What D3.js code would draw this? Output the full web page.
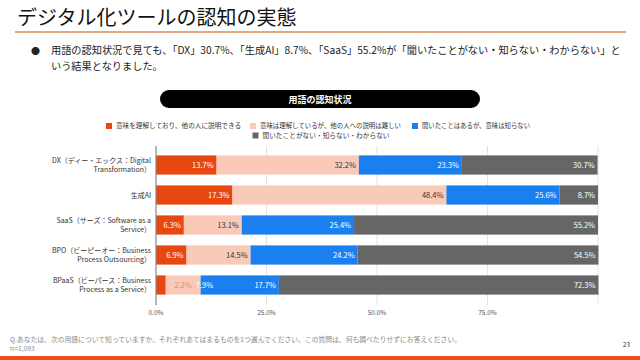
<!DOCTYPE html>
<html><head><meta charset="utf-8">
<script src="https://cdn.jsdelivr.net/npm/d3@7"></script>
<style>
html,body{margin:0;padding:0;background:#fff;}
svg{display:block;font-family:"Noto Sans CJK JP","Noto Sans",sans-serif;}
</style></head>
<body>
<svg id="c" width="640" height="360"></svg>
<script>
const categories = [
  ["DX（ディー・エックス：Digital","Transformation）"],
  ["生成AI"],
  ["SaaS（サーズ：Software as a","Service）"],
  ["BPO（ビーピーオー：Business","Process Outsourcing）"],
  ["BPaaS（ビーパース：Business","Process as a Service）"]
];
const seriesNames = [
  "意味を理解しており、他の人に説明できる",
  "意味は理解しているが、他の人への説明は難しい",
  "聞いたことはあるが、意味は知らない",
  "聞いたことがない・知らない・わからない"
];
const understandExplain = [13.7, 17.3, 6.3, 6.9, 2.2];
const understandHard    = [32.2, 48.4, 13.1, 14.5, 7.9];
const heardOnly         = [23.3, 25.6, 25.4, 24.2, 17.7];
const neverHeard        = [30.7, 8.7, 55.2, 54.5, 72.3];
const xTicks = [0, 25, 50, 75, 100];
const xTickLabels = ["0.0%", "25.0%", "50.0%", "75.0%", ""];

const colors = ["#e8470f", "#f9cab8", "#1a80ef", "#666666"];
const labelColors = ["#ffffff", "#333333", "#ffffff", "#ffffff"];

const svg = d3.select("#c");

// Header
svg.append("text").attr("x", 17).attr("y", 25).attr("font-size", 20).attr("fill", "#111")
  .text("デジタル化ツールの認知の実態");
svg.append("line").attr("x1", 15).attr("x2", 626).attr("y1", 32).attr("y2", 32)
  .attr("stroke", "#dc8a55").attr("stroke-width", 1.5);
svg.append("text").attr("x", 31).attr("y", 54).attr("font-size", 9).attr("fill", "#222").text("●");
svg.append("text").attr("x", 51).attr("y", 54).attr("font-size", 10.2).attr("fill", "#222")
  .text("用語の認知状況で見ても、「DX」30.7%、「生成AI」8.7%、「SaaS」55.2%が「聞いたことがない・知らない・わからない」と");
svg.append("text").attr("x", 51).attr("y", 70).attr("font-size", 10.2).attr("fill", "#222")
  .text("いう結果となりました。");

// Chart title pill
svg.append("rect").attr("x", 160).attr("y", 90).attr("width", 320).attr("height", 18).attr("rx", 9)
  .attr("fill", "#000");
svg.append("text").attr("x", 320).attr("y", 102.5).attr("text-anchor", "middle").attr("font-size", 9)
  .attr("font-weight", "bold").attr("fill", "#fff").text("用語の認知状況");

// Legend
const legendPos = [[106, 126], [250, 126], [412, 126], [252.5, 135.5]];
const legendTextW = [125, 141, 108, 127];
seriesNames.forEach((n, i) => {
  const [lx, ly] = legendPos[i];
  svg.append("rect").attr("x", lx).attr("y", ly - 3).attr("width", 6).attr("height", 6).attr("fill", colors[i]);
  svg.append("text").attr("x", lx + 10).attr("y", ly + 2.3).attr("font-size", 6.4).attr("fill", "#333")
    .attr("textLength", legendTextW[i]).attr("lengthAdjust", "spacingAndGlyphs").text(n);
});

// Scales
const x = d3.scaleLinear().domain([0, 100]).range([156, 598]);
const y = d3.scaleBand().domain(d3.range(categories.length)).range([150, 300]).paddingInner(0.36).paddingOuter(0.18);

// Gridlines
svg.append("g").selectAll("line").data(xTicks.slice(1)).join("line")
  .attr("x1", d => x(d)).attr("x2", d => x(d)).attr("y1", 146).attr("y2", 305)
  .attr("stroke", "#e2e2e2").attr("stroke-width", 1);

// Stack
const rows = categories.map((c, i) => ({i, v: [understandExplain[i], understandHard[i], heardOnly[i], neverHeard[i]]}));
const segs = [];
rows.forEach(r => {
  let acc = 0;
  r.v.forEach((v, k) => { segs.push({row: r.i, k, x0: acc, x1: acc + v, v}); acc += v; });
});

svg.append("g").selectAll("rect").data(segs).join("rect")
  .attr("x", d => x(d.x0)).attr("y", d => y(d.row))
  .attr("width", d => x(d.x1) - x(d.x0)).attr("height", y.bandwidth())
  .attr("fill", d => colors[d.k]);

// axis line at 0
svg.append("line").attr("x1", x(0)).attr("x2", x(0)).attr("y1", 146).attr("y2", 305)
  .attr("stroke", "#888").attr("stroke-width", 1.2);

// Labels (right aligned at segment end; narrow segments pushed right)
const lab = svg.append("g").attr("font-size", 7.5);
rows.forEach(r => {
  let prevRight = -Infinity;
  const rs = segs.filter(s => s.row === r.i);
  rs.forEach((s, k) => {
    const txt = s.v.toFixed(1) + "%";
    const t = lab.append("text").attr("y", y(r.i) + y.bandwidth() / 2 + 2.7).text(txt);
    const w = t.node().getComputedTextLength();
    const segW = x(s.x1) - x(s.x0);
    let right = x(s.x1) - 3;
    let fill = labelColors[k];
    let opacity = 1;
    if (segW < w + 5 && k < rs.length - 1) {
      const nx = rs[k + 1];
      right = (x(nx.x0) + x(nx.x1)) / 2 + w / 2;
      opacity = 0.55;
      fill = colors[k];
    }
    if (right - w < prevRight + 4) right = prevRight + 4 + w;
    if (right > x(s.x1) - 3 && opacity === 1) fill = "#ffffff";
    t.attr("x", right).attr("text-anchor", "end").attr("fill", fill).attr("fill-opacity", opacity);
    prevRight = right;
  });
});

// Y labels
categories.forEach((c, i) => {
  const cy = y(i) + y.bandwidth() / 2;
  const t = svg.append("text").attr("text-anchor", "end").attr("font-size", 7).attr("fill", "#333");
  const n = c.length;
  c.forEach((line, j) => {
    t.append("tspan").attr("x", 151).attr("y", cy + 2.5 + (j - (n - 1) / 2) * 8.5).text(line);
  });
});

// X tick labels
svg.append("g").selectAll("text").data(xTicks).join("text")
  .attr("x", d => x(d)).attr("y", 315).attr("text-anchor", "middle").attr("font-size", 6.5)
  .attr("fill", "#555").text((d, i) => xTickLabels[i]);

// Footnote
svg.append("text").attr("x", 10).attr("y", 342).attr("font-size", 6.8).attr("fill", "#8a8a8a")
  .text("Q.あなたは、次の用語について知っていますか。それぞれあてはまるものを1つ選んでください。この質問は、何も調べたりせずにお答えください。");
svg.append("text").attr("x", 10).attr("y", 351).attr("font-size", 6.8).attr("fill", "#8a8a8a").text("n=1,093");
svg.append("text").attr("x", 630).attr("y", 347).attr("text-anchor", "end").attr("font-size", 6.5).attr("fill", "#333").text("23");
svg.append("rect").attr("x", 0).attr("y", 356).attr("width", 640).attr("height", 4).attr("fill", "#e8501e");
</script>
</body></html>
